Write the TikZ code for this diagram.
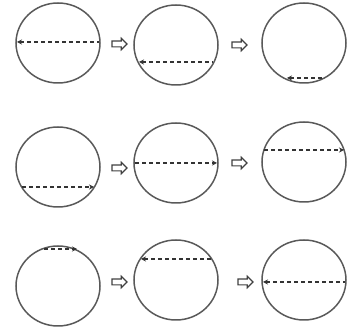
\documentclass[tikz,border=0pt]{standalone}
\usetikzlibrary{shapes.geometric,shapes.arrows,arrows.meta}
\begin{document}
\begin{tikzpicture}[x=1pt,y=-1pt,
  ring/.style={draw=black!65,line width=1.5pt,ellipse,minimum width=84pt,minimum height=80pt,inner sep=0pt},
  chordl/.style={draw=black!80,line width=1.3pt,dash pattern=on 4pt off 3pt,{Stealth[length=5pt,width=5pt]}-},
  chordr/.style={draw=black!80,line width=1.3pt,dash pattern=on 4pt off 3pt,-{Stealth[length=5pt,width=5pt]}},
  hollow/.style={single arrow,draw=black!75,line width=1.2pt,minimum height=15pt,minimum width=11pt,inner sep=2.3pt,single arrow head extend=2.8pt,fill=white}]
\useasboundingbox (0,0) rectangle (349,328);
% row 1
\node[ring] (c11) at (58,43) {};
\node[ring] (c12) at (176,45) {};
\node[ring] (c13) at (304,43) {};
\node[hollow] (h11) at (118,44) {};
\node[hollow] (h12) at (238,45) {};
\coordinate (a11) at (17,42); \coordinate (b11) at (99,42);
\coordinate (a12) at (139,62); \coordinate (b12) at (213,62);
\coordinate (a13) at (287,78); \coordinate (b13) at (322,78);
\draw[chordl] (a11) -- (b11);
\draw[chordl] (a12) -- (b12);
\draw[chordl] (a13) -- (b13);
% row 2
\node[ring] (c21) at (58,167) {};
\node[ring] (c22) at (176,163) {};
\node[ring] (c23) at (304,162) {};
\node[hollow] (h21) at (118,168) {};
\node[hollow] (h22) at (238,163) {};
\coordinate (a21) at (22,187); \coordinate (b21) at (94,187);
\coordinate (a22) at (135,163); \coordinate (b22) at (217,163);
\coordinate (a23) at (264,150); \coordinate (b23) at (344,150);
\draw[chordr] (a21) -- (b21);
\draw[chordr] (a22) -- (b22);
\draw[chordr] (a23) -- (b23);
% row 3
\node[ring] (c31) at (58,286) {};
\node[ring] (c32) at (176,280) {};
\node[ring] (c33) at (304,280) {};
\node[hollow] (h31) at (118,282) {};
\node[hollow] (h32) at (244,282) {};
\coordinate (a31) at (44,249); \coordinate (b31) at (77,249);
\coordinate (a32) at (141,259); \coordinate (b32) at (212,259);
\coordinate (a33) at (263,282); \coordinate (b33) at (345,282);
\draw[chordr] (a31) -- (b31);
\draw[chordl] (a32) -- (b32);
\draw[chordl] (a33) -- (b33);
\end{tikzpicture}
\end{document}
